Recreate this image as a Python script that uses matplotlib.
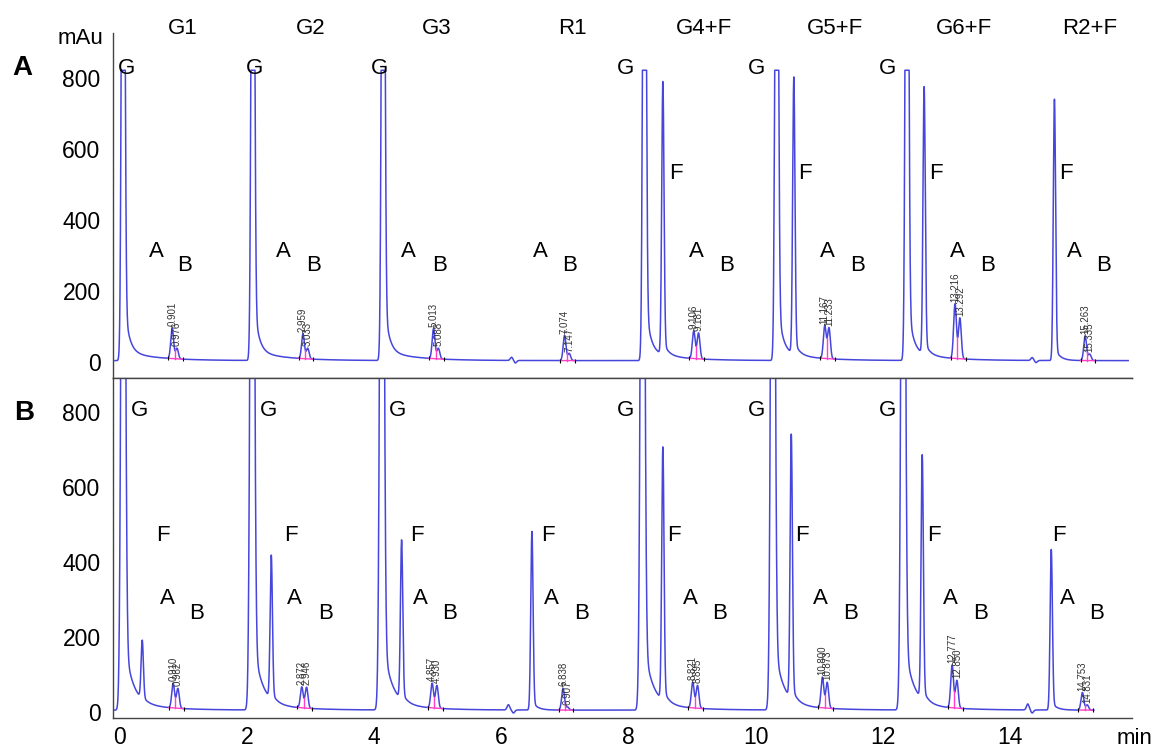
import numpy as np
import matplotlib.pyplot as plt
import matplotlib.transforms as mtransforms

plt.rcParams['font.family'] = ['Liberation Sans', 'DejaVu Sans']

# group names over the top panel
group_names = ["G1", "G2", "G3", "R1", "G4+F", "G5+F", "G6+F", "R2+F"]
group_label_t = [1.06, 3.08, 5.06, 7.20, 9.26, 11.32, 13.36, 15.33]

# ---------------- panel A data (time in min, height in mAu) ----------------
a_base = 4
a_clip = 822
a_g_time = [0.13, 2.17, 4.22, 8.33, 10.41, 12.46]
a_g_height = [2500, 2500, 2500, 2500, 2500, 2500]
a_f_time = [8.62, 10.68, 12.73, 14.78]
a_f_height = [767, 778, 750, 734]
a_pkA_time = [0.901, 2.959, 5.013, 7.074, 9.106, 11.167, 13.216, 15.263]
a_pkA_height = [86, 70, 85, 71, 78, 92, 154, 70]
a_pkA_label = ["0.901", "2.959", "5.013", "7.074", "9.106", "11.167", "13.216", "15.263"]
a_pkB_time = [0.976, 3.033, 5.088, 7.147, 9.181, 11.233, 13.292, 15.335]
a_pkB_height = [30, 30, 30, 20, 73, 87, 115, 18]
a_pkB_label = ["0.976", "3.033", "5.088", "7.147", "9.181", "11.233", "13.292", "15.335"]
a_bump_time = [6.24, 6.30, 14.43, 14.49]
a_bump_height = [9, -7, 8, -6]

# letters written inside panel A
a_G_t = [0.18, 2.20, 4.17, 8.04, 10.10, 12.15]
a_F_t = [8.83, 10.85, 12.92, 14.96]
a_A_t = [0.65, 2.65, 4.61, 6.70, 9.15, 11.21, 13.25, 15.09]
a_B_t = [1.10, 3.12, 5.10, 7.16, 9.62, 11.68, 13.72, 15.55]

# ---------------- panel B data ----------------
b_base = 5
b_g_time = [0.13, 2.16, 4.20, 8.30, 10.35, 12.40]
b_g_height = [2500, 2500, 2500, 2500, 2500, 2500]
b_f_time = [0.43, 2.46, 4.51, 6.56, 8.62, 10.64, 12.70, 14.73]
b_f_height = [156, 382, 424, 475, 673, 702, 649, 427]
b_pkA_time = [0.916, 2.94, 4.99, 7.05, 9.09, 11.13, 13.17, 15.22]
b_pkA_height = [66, 56, 66, 58, 69, 82, 114, 47]
b_pkA_label = ["0.910", "2.872", "4.857", "6.838", "8.821", "10.800", "12.777", "14.753"]
b_pkB_time = [0.99, 3.015, 5.065, 7.12, 9.165, 11.205, 13.245, 15.295]
b_pkB_height = [53, 56, 61, 8, 61, 69, 74, 14]
b_pkB_label = ["0.982", "2.946", "4.930", "6.907", "8.895", "10.873", "12.850", "14.831"]
b_bump_time = [6.19, 6.27, 14.36, 14.43]
b_bump_height = [14, -8, 16, -8]

b_G_t = [0.38, 2.41, 4.45, 8.04, 10.09, 12.15]
b_F_t = [0.76, 2.77, 4.75, 6.81, 8.79, 10.81, 12.89, 14.85]
b_A_t = [0.82, 2.83, 4.80, 6.87, 9.06, 11.10, 13.14, 14.98]
b_B_t = [1.29, 3.32, 5.26, 7.34, 9.51, 11.57, 13.61, 15.44]

x_ticks = [0, 2, 4, 6, 8, 10, 12, 14]

blue = '#4646dc'
pink = '#ff3fc8'


def gauss(t, times, heights, sigma):
    y = np.zeros_like(t)
    for t0, h in zip(times, heights):
        y += h * np.exp(-0.5 * ((t - t0) / sigma) ** 2)
    return y


def tails(t, times, amps, tau, delay):
    y = np.zeros_like(t)
    for t0, a in zip(times, amps):
        dt = t - (t0 + delay)
        onset = 1.0 / (1.0 + np.exp(-np.clip(dt, -1, 1) / 0.008))
        y += a * np.exp(-np.clip(dt, 0, None) / tau) * onset
    return y


def build(t, base, g_t, g_h, g_sig, g_amp, g_tau, f_t, f_h, bump_t, bump_h):
    bg = np.full_like(t, float(base))
    bg += gauss(t, g_t, g_h, g_sig)
    bg += tails(t, g_t, [g_amp] * len(g_t), g_tau, 0.03)
    bg += tails(t, g_t, [25] * len(g_t), 0.5, 0.03)
    bg += gauss(t, f_t, f_h, 0.018)
    bg += tails(t, f_t, [0.04 * h for h in f_h], 0.08, 0.02)
    bg += gauss(t, bump_t, bump_h, 0.02)
    return bg


t_a = np.linspace(0.0, 15.94, 9000)
bg_a = build(t_a, a_base, a_g_time, a_g_height, 0.022, 120, 0.07,
             a_f_time, a_f_height, a_bump_time, a_bump_height)
sig_a = bg_a + gauss(t_a, a_pkA_time, a_pkA_height, 0.022) + gauss(t_a, a_pkB_time, a_pkB_height, 0.022)
sig_a = np.minimum(sig_a, a_clip)

t_b = np.linspace(-0.02, 15.40, 9000)
bg_b = build(t_b, b_base, b_g_time, b_g_height, 0.028, 150, 0.12,
             b_f_time, b_f_height, b_bump_time, b_bump_height)
sig_b = bg_b + gauss(t_b, b_pkA_time, b_pkA_height, 0.022) + gauss(t_b, b_pkB_time, b_pkB_height, 0.022)

fig = plt.figure(figsize=(11.58, 7.51), dpi=100)
W, H = 1158, 751
axA = fig.add_axes([113 / W, 1 - 378 / H, 1019 / W, 345 / H])
axB = fig.add_axes([113 / W, 1 - 718 / H, 1019 / W, 340 / H])


def draw_panel(ax, t, sig, bg, pkA_t, pkB_t, pkA_lbl, pkB_lbl, letters, ylim):
    ax.plot(t, sig, color=blue, lw=1.1)
    for ta, tb, la, lb in zip(pkA_t, pkB_t, pkA_lbl, pkB_lbl):
        s, e = ta - 0.07, tb + 0.09
        bs, be = np.interp(s, t, bg), np.interp(e, t, bg)
        ax.plot([s, e], [bs, be], color=pink, lw=1.0)
        tv = 0.5 * (ta + tb)
        ax.plot([tv, tv], [np.interp(tv, t, bg), np.interp(tv, t, sig)], color=pink, lw=1.0)
        ax.plot([s, e], [bs, be], ls='none', marker='|', ms=3, color='k', mew=0.8)
        for tp, lbl in ((ta, la), (tb, lb)):
            top = np.interp(tp, t, sig)
            ax.text(tp, top + 5, lbl, rotation=90, fontsize=7, color='#333333',
                    ha='center', va='bottom')
    for letter, xs, yv in letters:
        for x in xs:
            ax.text(x, yv, letter, fontsize=16, ha='center', va='center')
    ax.set_xlim(-0.03, 16.0)
    ax.set_ylim(*ylim)
    ax.set_yticks([0, 200, 400, 600, 800])
    ax.tick_params(axis='y', length=0, pad=9, labelsize=16.5)
    ax.spines['right'].set_visible(False)
    for sp in ax.spines.values():
        sp.set_color('#444444')
        sp.set_linewidth(1.0)


draw_panel(axA, t_a, sig_a, bg_a, a_pkA_time, a_pkB_time, a_pkA_label, a_pkB_label,
           [("G", a_G_t, 828), ("F", a_F_t, 532), ("A", a_A_t, 310), ("B", a_B_t, 273)],
           (-45, 927))
axA.spines['top'].set_visible(False)
axA.set_xticks([])

draw_panel(axB, t_b, sig_b, bg_b, b_pkA_time, b_pkB_time, b_pkA_label, b_pkB_label,
           [("G", b_G_t, 805), ("F", b_F_t, 472), ("A", b_A_t, 304), ("B", b_B_t, 264)],
           (-16, 891))
axB.set_xticks(x_ticks)
axB.tick_params(axis='x', length=0, pad=6, labelsize=16.5)
# the original tick labels sit a few pixels right of their ticks
shift = mtransforms.ScaledTranslation(5 / 100, 0, fig.dpi_scale_trans)
for lab in axB.get_xticklabels():
    lab.set_transform(lab.get_transform() + shift)

top_tr = mtransforms.blended_transform_factory(axA.transData, fig.transFigure)
for name, x in zip(group_names, group_label_t):
    axA.text(x, 1 - 28 / H, name, fontsize=16, ha='center', va='center', transform=top_tr)

fig.text(80 / W, 1 - 38 / H, "mAu", fontsize=16, ha='center', va='center')
fig.text(1134 / W, 1 - 738 / H, "min", fontsize=16, ha='center', va='center')
fig.text(22 / W, 1 - 68 / H, "A", fontsize=20, fontweight='bold', ha='center', va='center')
fig.text(24 / W, 1 - 413 / H, "B", fontsize=20, fontweight='bold', ha='center', va='center')

fig.savefig('out.png', dpi=100)
